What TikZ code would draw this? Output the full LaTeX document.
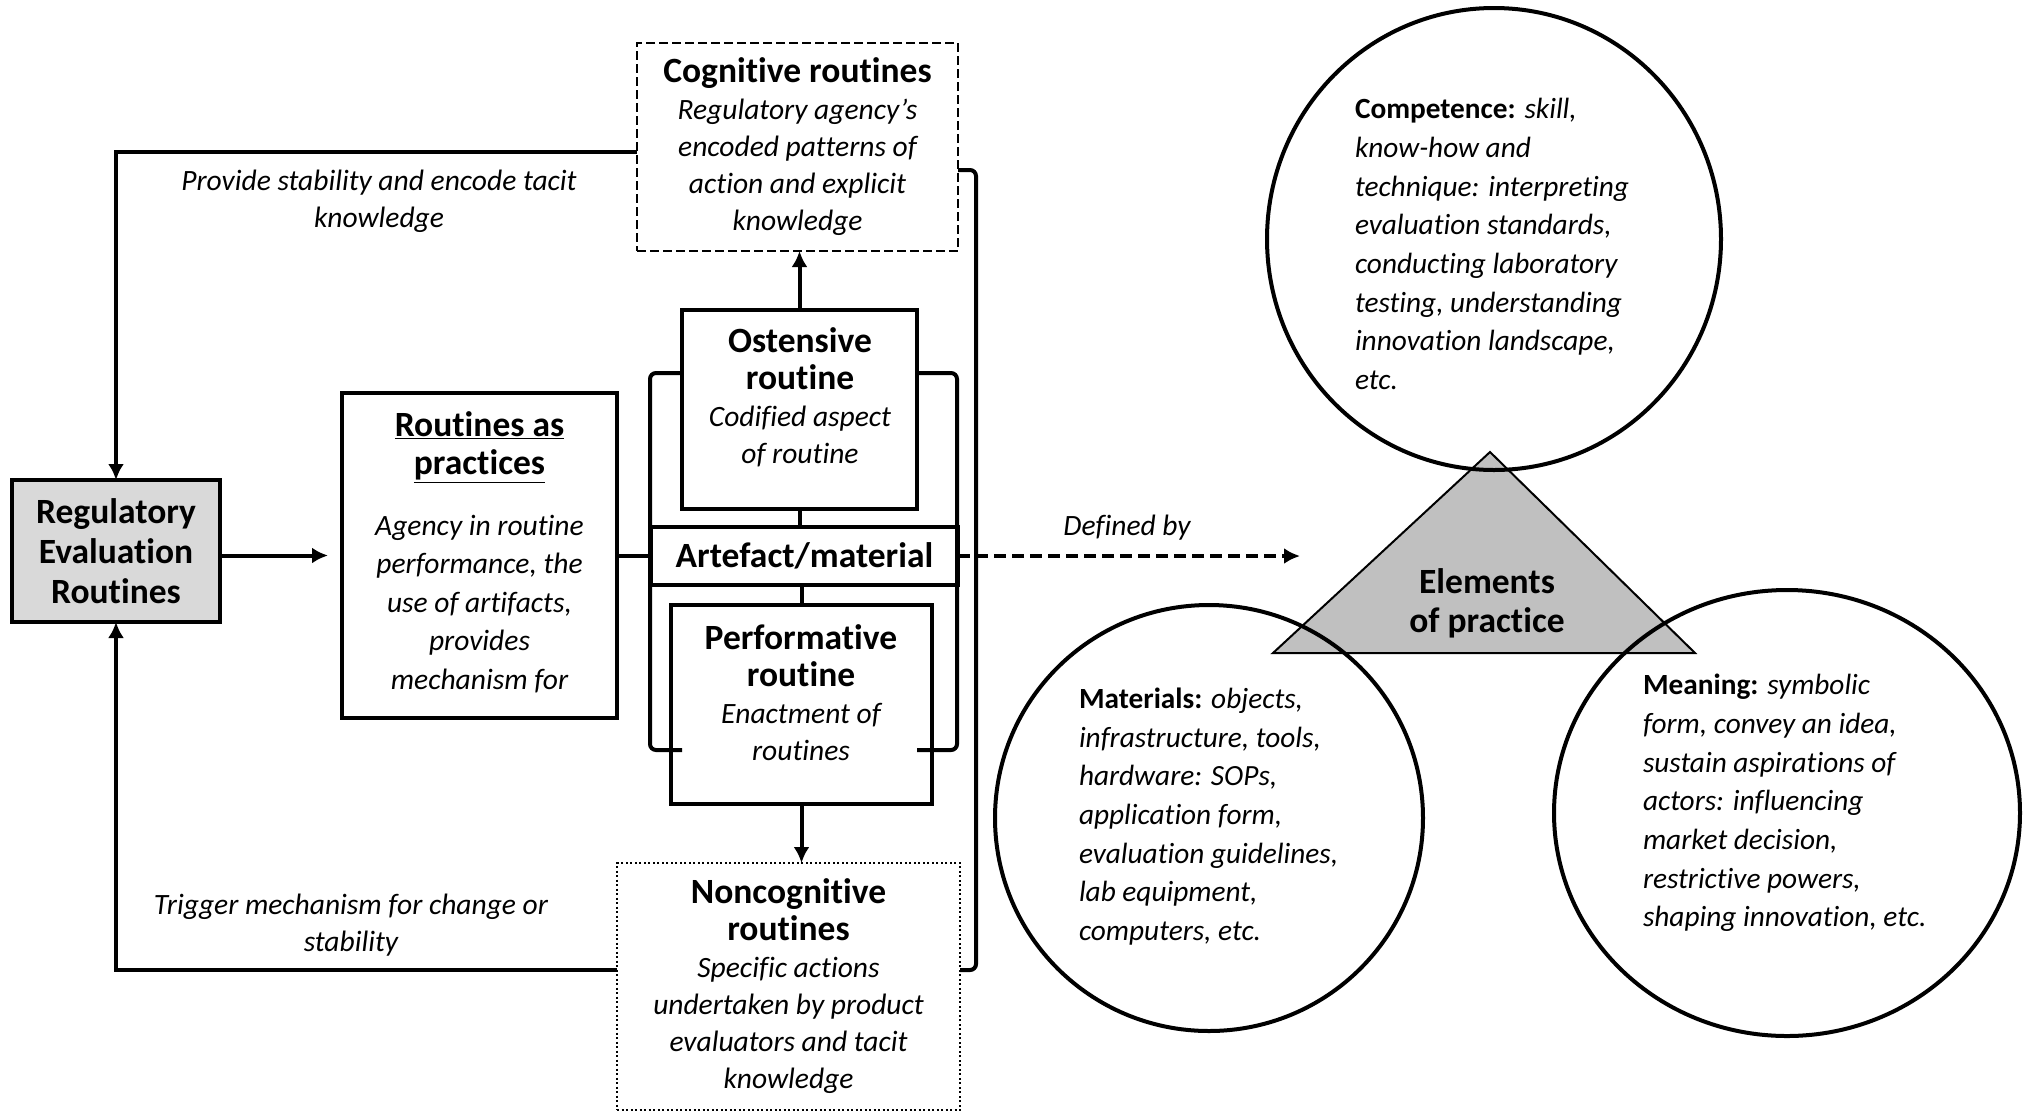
\documentclass[tikz,border=0pt]{standalone}
\usepackage{fontspec}
\setmainfont{Carlito}[Ligatures=NoCommon, Contextuals=NoAlternate]
\usetikzlibrary{arrows.meta,calc,shapes.geometric}
\definecolor{regfill}{HTML}{D9D9D9}
\definecolor{trifill}{HTML}{C0C0C0}
\newcommand\boxhead{\fontsize{35.5}{38}\selectfont\bfseries\upshape}
\begin{document}
\begin{tikzpicture}[x=1pt,y=-1pt,
  every node/.style={inner sep=0pt, outer sep=0pt},
  body/.style={font=\fontsize{29.5}{37}\selectfont\itshape, align=center},
  circtext/.style={font=\fontsize{29.3}{38.7}\selectfont\itshape, align=left, anchor=west},
  solidbox/.style={draw, line width=4.5pt},
  dashbox/.style={draw, line width=2pt, dash pattern=on 9pt off 4pt},
  dotbox/.style={draw, line width=2pt, dash pattern=on 2pt off 2.5pt},
  link/.style={line width=4pt},
  arr/.style={line width=4pt, -{Latex[length=16pt,width=16pt]}},
  dasharr/.style={line width=4pt, dash pattern=on 12pt off 6pt, -{Latex[length=16pt,width=16pt]}},
  bracket/.style={line width=4pt, rounded corners=6pt},
  circ/.style={draw, ellipse, line width=4pt}
]
\useasboundingbox (0,0) rectangle (2029,1112);

% ---- left part: routines ----
\node[dashbox, minimum width=321pt, minimum height=208pt, body] (cog) at (797.5,147)
  {{\boxhead Cognitive routines}\\Regulatory agency’s\\encoded patterns of\\action and explicit\\knowledge};

\node[solidbox, fill=regfill, minimum width=208pt, minimum height=142pt,
      font=\fontsize{35.5}{40}\selectfont\bfseries, align=center] (reg) at (116,551)
  {Regulatory\\Evaluation\\Routines};

\node[solidbox, minimum width=275pt, minimum height=325pt] (rout) at (479.5,555.5) {};
\node[body, font=\fontsize{29.5}{38.5}\selectfont\itshape] (routT) at (479.5,552)
  {{\boxhead\underline{Routines as}}\\{\boxhead\underline{practices}}\\[22pt]Agency in routine\\performance, the\\use of artifacts,\\provides\\mechanism for};

\node[solidbox, minimum width=235pt, minimum height=199pt] (ost) at (799.5,409.5) {};
\node[body] (ostT) at (800,397)
  {{\boxhead Ostensive}\\{\boxhead routine}\\Codified aspect\\of routine};

\node[solidbox, minimum width=307pt, minimum height=58pt,
      font=\fontsize{35.5}{38}\selectfont\bfseries] (art) at (804.5,556) {Artefact/material};

\node[solidbox, minimum width=261pt, minimum height=199pt] (perf) at (801.5,704.5) {};
\node[body] (perfT) at (801,693)
  {{\boxhead Performative}\\{\boxhead routine}\\Enactment of\\routines};

\node[dotbox, minimum width=343pt, minimum height=247pt, body] (noncog) at (788.5,986.5)
  {{\boxhead Noncognitive}\\{\boxhead routines}\\Specific actions\\undertaken by product\\evaluators and tacit\\knowledge};

% brackets around ostensive / artefact / performative
\draw[bracket] (ost.west |- 0,373) -- (650,373) -- (650,750) -- (682,750);
\draw[bracket] (ost.east |- 0,373) -- (957,373) -- (957,750) -- (917,750);
% outer bracket from cognitive to noncognitive routines
\draw[bracket] (cog.east |- 0,170) -- (976,170) -- (976,970) -- (noncog.east |- 0,970);

% connectors
\draw[arr] ($(cog.west)+(0,5)$) -| (reg.north);
\node[body] (provide) at (379,201) {Provide stability and encode tacit\\knowledge};
\draw[arr, shorten >=14pt] (reg.east |- rout.west) -- (rout.west);
\draw[link] (rout.east) -- (art.west |- rout.east);
\draw[arr] (ost.north) -- (ost.north |- cog.south);
\draw[link] (ost.south) -- (ost.south |- art.north);
\draw[link] (perf.north) -- (perf.north |- art.south);
\draw[arr] (perf.south) -- (perf.south |- noncog.north);
\draw[arr] ($(noncog.west)+(0,-16.5)$) -| (reg.south);
\node[body] (trigger) at (351,925) {Trigger mechanism for change or\\stability};

\coordinate (defend) at (1300,556);
\draw[dasharr] (art.east) -- (defend);
\node[body] (defby) at (1127,528) {Defined by};

% ---- right part: elements of practice ----
\draw[line width=2pt, fill=trifill] (1490,452) -- (1695,653) -- (1273,653) -- cycle;
\node[font=\fontsize{35.5}{39}\selectfont\bfseries, align=center] (elem) at (1487,603) {Elements\\of practice};

\node[circ, minimum width=454pt, minimum height=462pt] (comp) at (1494,239) {};
\node[circ, minimum width=428pt, minimum height=426pt] (mat) at (1209,818) {};
\node[circ, minimum width=466pt, minimum height=446pt] (mean) at (1787,813) {};

\node[circtext] (compT) at (1355,244)
  {\textbf{\upshape Competence:} skill,\\know-how and\\technique: interpreting\\evaluation standards,\\conducting laboratory\\testing, understanding\\innovation landscape,\\etc.};
\node[circtext] (matT) at (1079,816.5)
  {\textbf{\upshape Materials:} objects,\\infrastructure, tools,\\hardware: SOPs,\\application form,\\evaluation guidelines,\\lab equipment,\\computers, etc.};
\node[circtext] (meanT) at (1643,803)
  {\textbf{\upshape Meaning:} symbolic\\form, convey an idea,\\sustain aspirations of\\actors: influencing\\market decision,\\restrictive powers,\\shaping innovation, etc.};
\end{tikzpicture}
\end{document}
